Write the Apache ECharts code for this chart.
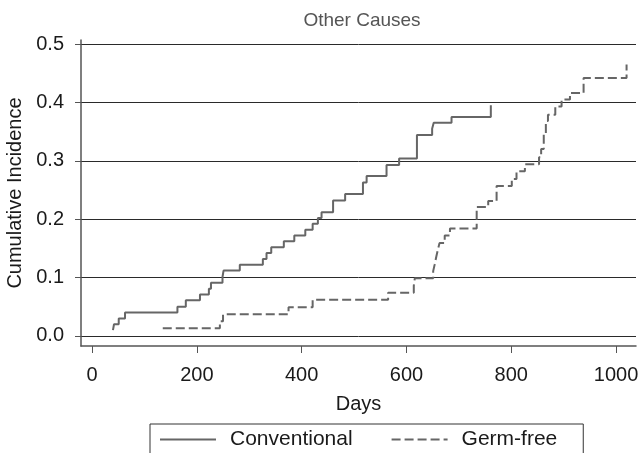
<!DOCTYPE html>
<html>
<head>
<meta charset="utf-8">
<script src="https://cdn.jsdelivr.net/npm/echarts@6/dist/echarts.min.js"></script>
<style>
  html, body { margin: 0; padding: 0; background: #fff; }
  #chart { width: 640px; height: 453px; }
</style>
</head>
<body>
<div id="chart"></div>
<script>
// Cumulative incidence of death from other causes, by housing group
const conventionalDays = [40, 42, 51, 63, 163, 179, 206, 223, 227, 249, 251, 282, 326, 333, 342, 366, 386, 407, 421, 431, 438, 460, 483, 517, 524, 562, 586, 620, 649, 652, 686, 761];
const conventionalCif  = [0.010, 0.020, 0.030, 0.040, 0.050, 0.061, 0.071, 0.081, 0.091, 0.101, 0.112, 0.122, 0.132, 0.142, 0.152, 0.162, 0.172, 0.182, 0.192, 0.202, 0.212, 0.232, 0.243, 0.263, 0.274, 0.293, 0.304, 0.344, 0.355, 0.365, 0.375, 0.395];

const germFreeDays = [135, 244, 250, 375, 421, 565, 614, 616, 651, 654, 657, 660, 663, 673, 683, 734, 756, 772, 801, 810, 826, 853, 857, 862, 866, 870, 884, 896, 912, 938, 1020];
const germFreeCif  = [0.013, 0.025, 0.037, 0.049, 0.062, 0.074, 0.086, 0.099, 0.111, 0.123, 0.136, 0.148, 0.159, 0.172, 0.184, 0.221, 0.231, 0.257, 0.269, 0.282, 0.294, 0.306, 0.320, 0.345, 0.368, 0.379, 0.393, 0.405, 0.416, 0.442, 0.465];

const xTicks = [0, 200, 400, 600, 800, 1000];
const yTicks = [0, 0.1, 0.2, 0.3, 0.4, 0.5];

const seriesNames = ['Conventional', 'Germ-free'];

const pair = (xs, ys) => xs.map((x, i) => [x, ys[i]]);

const FONT = 'Liberation Sans, Arial, Helvetica, sans-serif';
const INK = '#1a1a1a';
const CURVE = '#666666';

const chart = echarts.init(document.getElementById('chart'), null, { renderer: 'canvas' });

chart.setOption({
  animation: false,
  backgroundColor: '#ffffff',
  title: {
    text: 'Other Causes',
    left: 357,
    textAlign: 'center',
    top: 6,
    textStyle: { fontFamily: FONT, fontSize: 19, fontWeight: 'normal', color: '#555555' }
  },
  grid: { left: 81, right: 4, top: 40, bottom: 107, containLabel: false, outerBoundsMode: 'none' },
  xAxis: {
    type: 'value',
    min: -21,
    max: 1038,
    name: 'Days',
    nameLocation: 'middle',
    nameGap: 48,
    nameTextStyle: { fontFamily: FONT, fontSize: 20, color: INK },
    axisLine: { onZero: false, lineStyle: { color: '#555555', width: 1.5 } },
    axisTick: { show: true, length: 7, customValues: xTicks, lineStyle: { color: '#555555', width: 1 } },
    axisLabel: {
      customValues: xTicks, margin: 19, fontFamily: FONT, fontSize: 20, color: INK,
      formatter: v => String(v)
    },
    splitLine: { show: false }
  },
  yAxis: {
    type: 'value',
    min: -0.0172,
    max: 0.5069,
    name: 'Cumulative Incidence',
    nameLocation: 'middle',
    nameGap: 50,
    nameTextStyle: { fontFamily: FONT, fontSize: 20, color: INK },
    axisLine: { show: true, onZero: false, lineStyle: { color: '#555555', width: 1.5 } },
    axisTick: { show: true, length: 6, customValues: yTicks, lineStyle: { color: '#555555', width: 1 } },
    axisLabel: {
      customValues: yTicks,
      margin: 17,
      fontFamily: FONT, fontSize: 20, color: INK,
      formatter: v => v.toFixed(1)
    },
    splitLine: { show: true, lineStyle: { color: '#2a2a2a', width: 1 } }
  },
  legend: {
    left: 150,
    top: 424,
    orient: 'horizontal',
    itemWidth: 56,
    itemHeight: 12,
    itemGap: 38,
    padding: [5, 26, 30, 9],
    borderColor: '#333333',
    borderWidth: 1,
    borderRadius: 0,
    itemStyle: { opacity: 0 },
    textStyle: { fontFamily: FONT, fontSize: 21, color: INK, padding: [0, 0, 0, 9] },
    data: seriesNames
  },
  series: [
    {
      name: seriesNames[0],
      type: 'line',
      step: 'end',
      symbol: 'none',
      data: pair(conventionalDays, conventionalCif),
      lineStyle: { color: CURVE, width: 2, type: 'solid' },
      itemStyle: { color: CURVE }
    },
    {
      name: seriesNames[1],
      type: 'line',
      step: 'end',
      symbol: 'none',
      data: pair(germFreeDays, germFreeCif),
      lineStyle: { color: CURVE, width: 2, type: [9, 4] },
      itemStyle: { color: CURVE }
    }
  ]
});
</script>
</body>
</html>
